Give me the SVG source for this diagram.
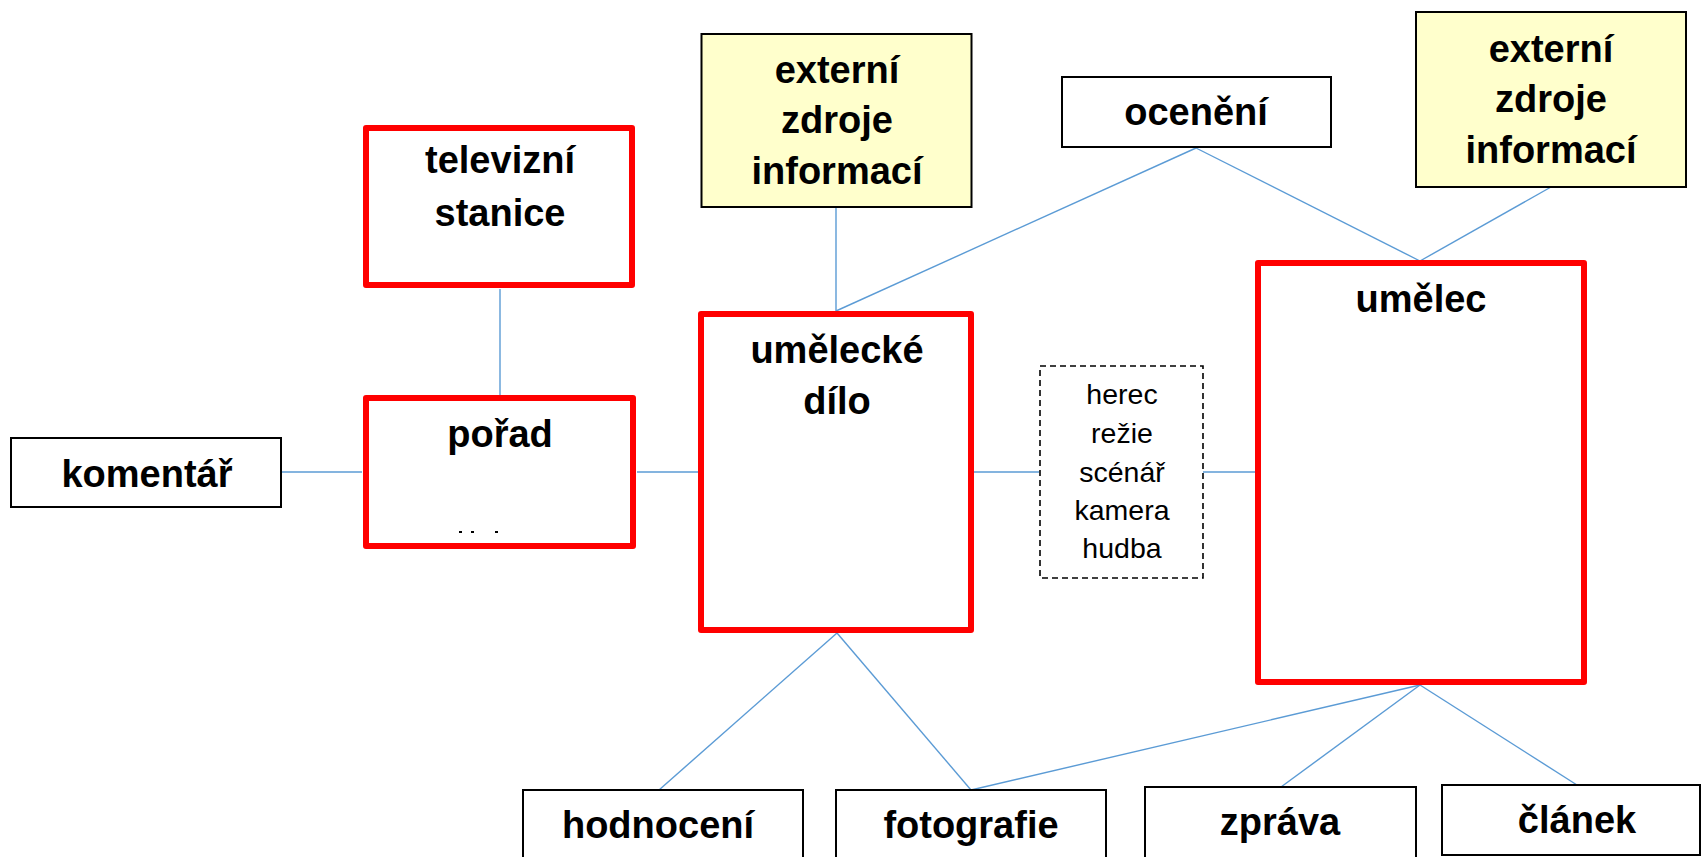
<svg xmlns="http://www.w3.org/2000/svg" width="1703" height="857" viewBox="0 0 1703 857">
<style>
.red{fill:#fff;stroke:#ff0000;stroke-width:6;stroke-linejoin:round}
.blk{fill:#fff;stroke:#000;stroke-width:2}
.yel{fill:#ffffcc;stroke:#000;stroke-width:2}
.dash{fill:#fff;stroke:#000;stroke-width:1.6;stroke-dasharray:6 4}
.t{font-family:"Liberation Sans",Arial,sans-serif;font-weight:bold;font-size:38px;fill:#000;text-anchor:middle}
.r{font-family:"Liberation Sans",Arial,sans-serif;font-size:28.5px;fill:#000;text-anchor:middle}
#connectors line{stroke:#5b9bd5;stroke-width:1.4;fill:none}
</style>
<rect width="1703" height="857" fill="#fff"/>
<g id="connectors">
<line x1="500" y1="289" x2="500" y2="395"/>
<line x1="282" y1="472" x2="362" y2="472"/>
<line x1="637" y1="472" x2="698" y2="472"/>
<line x1="974" y1="472" x2="1039" y2="472"/>
<line x1="1203" y1="472" x2="1255" y2="472"/>
<line x1="836" y1="207" x2="836" y2="311"/>
<line x1="1196" y1="148" x2="836" y2="311"/>
<line x1="1196" y1="148" x2="1420" y2="261"/>
<line x1="1551" y1="187" x2="1420" y2="261"/>
<line x1="837" y1="633" x2="659" y2="790"/>
<line x1="837" y1="633" x2="971" y2="790"/>
<line x1="1420" y1="685" x2="971" y2="790"/>
<line x1="1420" y1="685" x2="1281" y2="787"/>
<line x1="1420" y1="685" x2="1577" y2="785"/>
</g>
<g id="komentar">
<rect class="blk" x="11" y="438" width="270" height="69"/>
<text class="t" x="147" y="487">komentář</text>
</g>
<g id="televizni-stanice">
<rect class="red" x="366" y="128" width="266" height="157"/>
<text class="t" x="500" y="173">televizní</text>
<text class="t" x="500" y="226">stanice</text>
</g>
<g id="porad">
<rect class="red" x="366" y="398" width="267" height="148"/>
<text class="t" x="500" y="447">pořad</text>
<rect x="459" y="531" width="3" height="2" fill="#000"/>
<rect x="471" y="531" width="3" height="2" fill="#000"/>
<rect x="495" y="531" width="3" height="2" fill="#000"/>
</g>
<g id="externi-1">
<rect class="yel" x="701.5" y="34" width="270" height="173"/>
<text class="t" x="837" y="83">externí</text>
<text class="t" x="837" y="133">zdroje</text>
<text class="t" x="837" y="184">informací</text>
</g>
<g id="oceneni">
<rect class="blk" x="1062" y="77" width="269" height="70"/>
<text class="t" x="1196" y="125">ocenění</text>
</g>
<g id="externi-2">
<rect class="yel" x="1416" y="12" width="270" height="175"/>
<text class="t" x="1551" y="62">externí</text>
<text class="t" x="1551" y="112">zdroje</text>
<text class="t" x="1551" y="163">informací</text>
</g>
<g id="umelecke-dilo">
<rect class="red" x="701" y="314" width="270" height="316"/>
<text class="t" x="837" y="363">umělecké</text>
<text class="t" x="837" y="414">dílo</text>
</g>
<g id="role">
<rect class="dash" x="1040" y="366" width="163" height="212"/>
<text class="r" x="1122" y="404">herec</text>
<text class="r" x="1122" y="443">režie</text>
<text class="r" x="1122" y="482">scénář</text>
<text class="r" x="1122" y="520">kamera</text>
<text class="r" x="1122" y="558">hudba</text>
</g>
<g id="umelec">
<rect class="red" x="1258" y="263" width="326" height="419"/>
<text class="t" x="1421" y="312">umělec</text>
</g>
<g id="hodnoceni">
<rect class="blk" x="523" y="790" width="280" height="80"/>
<text class="t" x="658" y="838">hodnocení</text>
</g>
<g id="fotografie">
<rect class="blk" x="836" y="790" width="270" height="80"/>
<text class="t" x="971" y="838">fotografie</text>
</g>
<g id="zprava">
<rect class="blk" x="1145" y="787" width="271" height="80"/>
<text class="t" x="1280" y="835">zpráva</text>
</g>
<g id="clanek">
<rect class="blk" x="1442" y="785" width="258" height="70"/>
<text class="t" x="1577" y="833">článek</text>
</g>
</svg>
